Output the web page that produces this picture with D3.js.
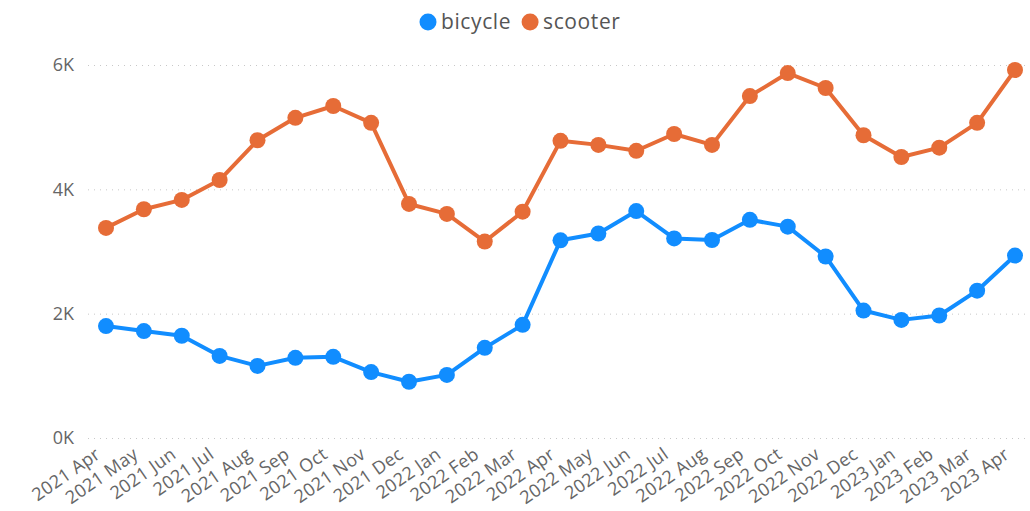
<!DOCTYPE html>
<html>
<head>
<meta charset="utf-8">
<script src="https://cdn.jsdelivr.net/npm/d3@7"></script>
<style>
body{margin:0;background:#fff;}
svg text{font-family:"Segoe UI","Open Sans","Noto Sans",sans-serif;}
.grid line{stroke:#c8c8c8;stroke-dasharray:1,5;}
.yaxis text,.xaxis text{fill:#666;}
</style>
</head>
<body>
<svg id="chart" width="1030" height="511"></svg>
<script>
var months = ["2021 Apr","2021 May","2021 Jun","2021 Jul","2021 Aug","2021 Sep","2021 Oct","2021 Nov","2021 Dec",
	"2022 Jan","2022 Feb","2022 Mar","2022 Apr","2022 May","2022 Jun","2022 Jul","2022 Aug","2022 Sep","2022 Oct",
	"2022 Nov","2022 Dec","2023 Jan","2023 Feb","2023 Mar","2023 Apr"];
var bicycle = [1800,1720,1645,1320,1160,1290,1305,1060,905,1015,1450,1820,3180,3290,3650,3210,3185,3510,3400,2920,2050,1900,1970,2370,2935];
var scooter = [3380,3680,3830,4150,4790,5150,5340,5070,3765,3605,3160,3640,4780,4715,4620,4890,4715,5500,5870,5630,4870,4520,4670,5070,5920];
var yTicks = [0,2000,4000,6000];

var svg = d3.select("#chart");
var plotLeft = 88, plotRight = 1030, plotTop = 65, plotBottom = 438;

var x = d3.scalePoint().domain(months).range([106,1015]);
var y = d3.scaleLinear().domain([0,6000]).range([plotBottom, plotTop]);

// grid
svg.append("g").attr("class","grid")
	.selectAll("line").data(yTicks).enter().append("line")
	.attr("x1", plotLeft).attr("x2", plotRight)
	.attr("y1", function(d){ return y(d) + 0.5; })
	.attr("y2", function(d){ return y(d) + 0.5; });

// y axis
var yAxis = svg.append("g").attr("class","yaxis")
	.attr("transform","translate(74,0)")
	.call(d3.axisLeft(y).tickValues(yTicks).tickSize(0).tickPadding(0)
		.tickFormat(function(d){ return (d/1000) + "K"; }));
yAxis.select(".domain").remove();
yAxis.selectAll("text").style("font-size","18px").attr("dy","0.33em");

// x axis
var xAxis = svg.append("g").attr("class","xaxis")
	.attr("transform","translate(0," + plotBottom + ")")
	.call(d3.axisBottom(x).tickSize(0).tickPadding(0));
xAxis.select(".domain").remove();
xAxis.selectAll("text")
	.style("font-size","18px")
	.style("letter-spacing","0.3px")
	.attr("text-anchor","end")
	.attr("dy", null)
	.attr("y", 0)
	.attr("transform","translate(-5,19) rotate(-35)");

var series = [
	{name:"bicycle", values:bicycle, color:"#118DFF"},
	{name:"scooter", values:scooter, color:"#E66C37"}
];

var line = d3.line()
	.x(function(d, i){ return x(months[i]); })
	.y(function(d){ return y(d); });

series.forEach(function(s){
	svg.append("path")
		.attr("d", line(s.values))
		.attr("fill","none")
		.attr("stroke", s.color)
		.attr("stroke-width", 4)
		.attr("stroke-linejoin","round");
	svg.append("g").selectAll("circle").data(s.values).enter().append("circle")
		.attr("cx", function(d, i){ return x(months[i]); })
		.attr("cy", function(d){ return y(d); })
		.attr("r", 8)
		.attr("fill", s.color);
});

// legend
var legend = svg.append("g").attr("class","legend");
var lx = 428;
series.forEach(function(s){
	legend.append("circle").attr("cx", lx).attr("cy", 22).attr("r", 8.5).attr("fill", s.color);
	var t = legend.append("text").attr("x", lx + 13).attr("y", 29)
		.style("font-size","21px").style("letter-spacing","0.6px")
		.attr("fill","#555").text(s.name);
	lx += 13 + t.node().getComputedTextLength() + 19;
});
</script>
</body>
</html>
